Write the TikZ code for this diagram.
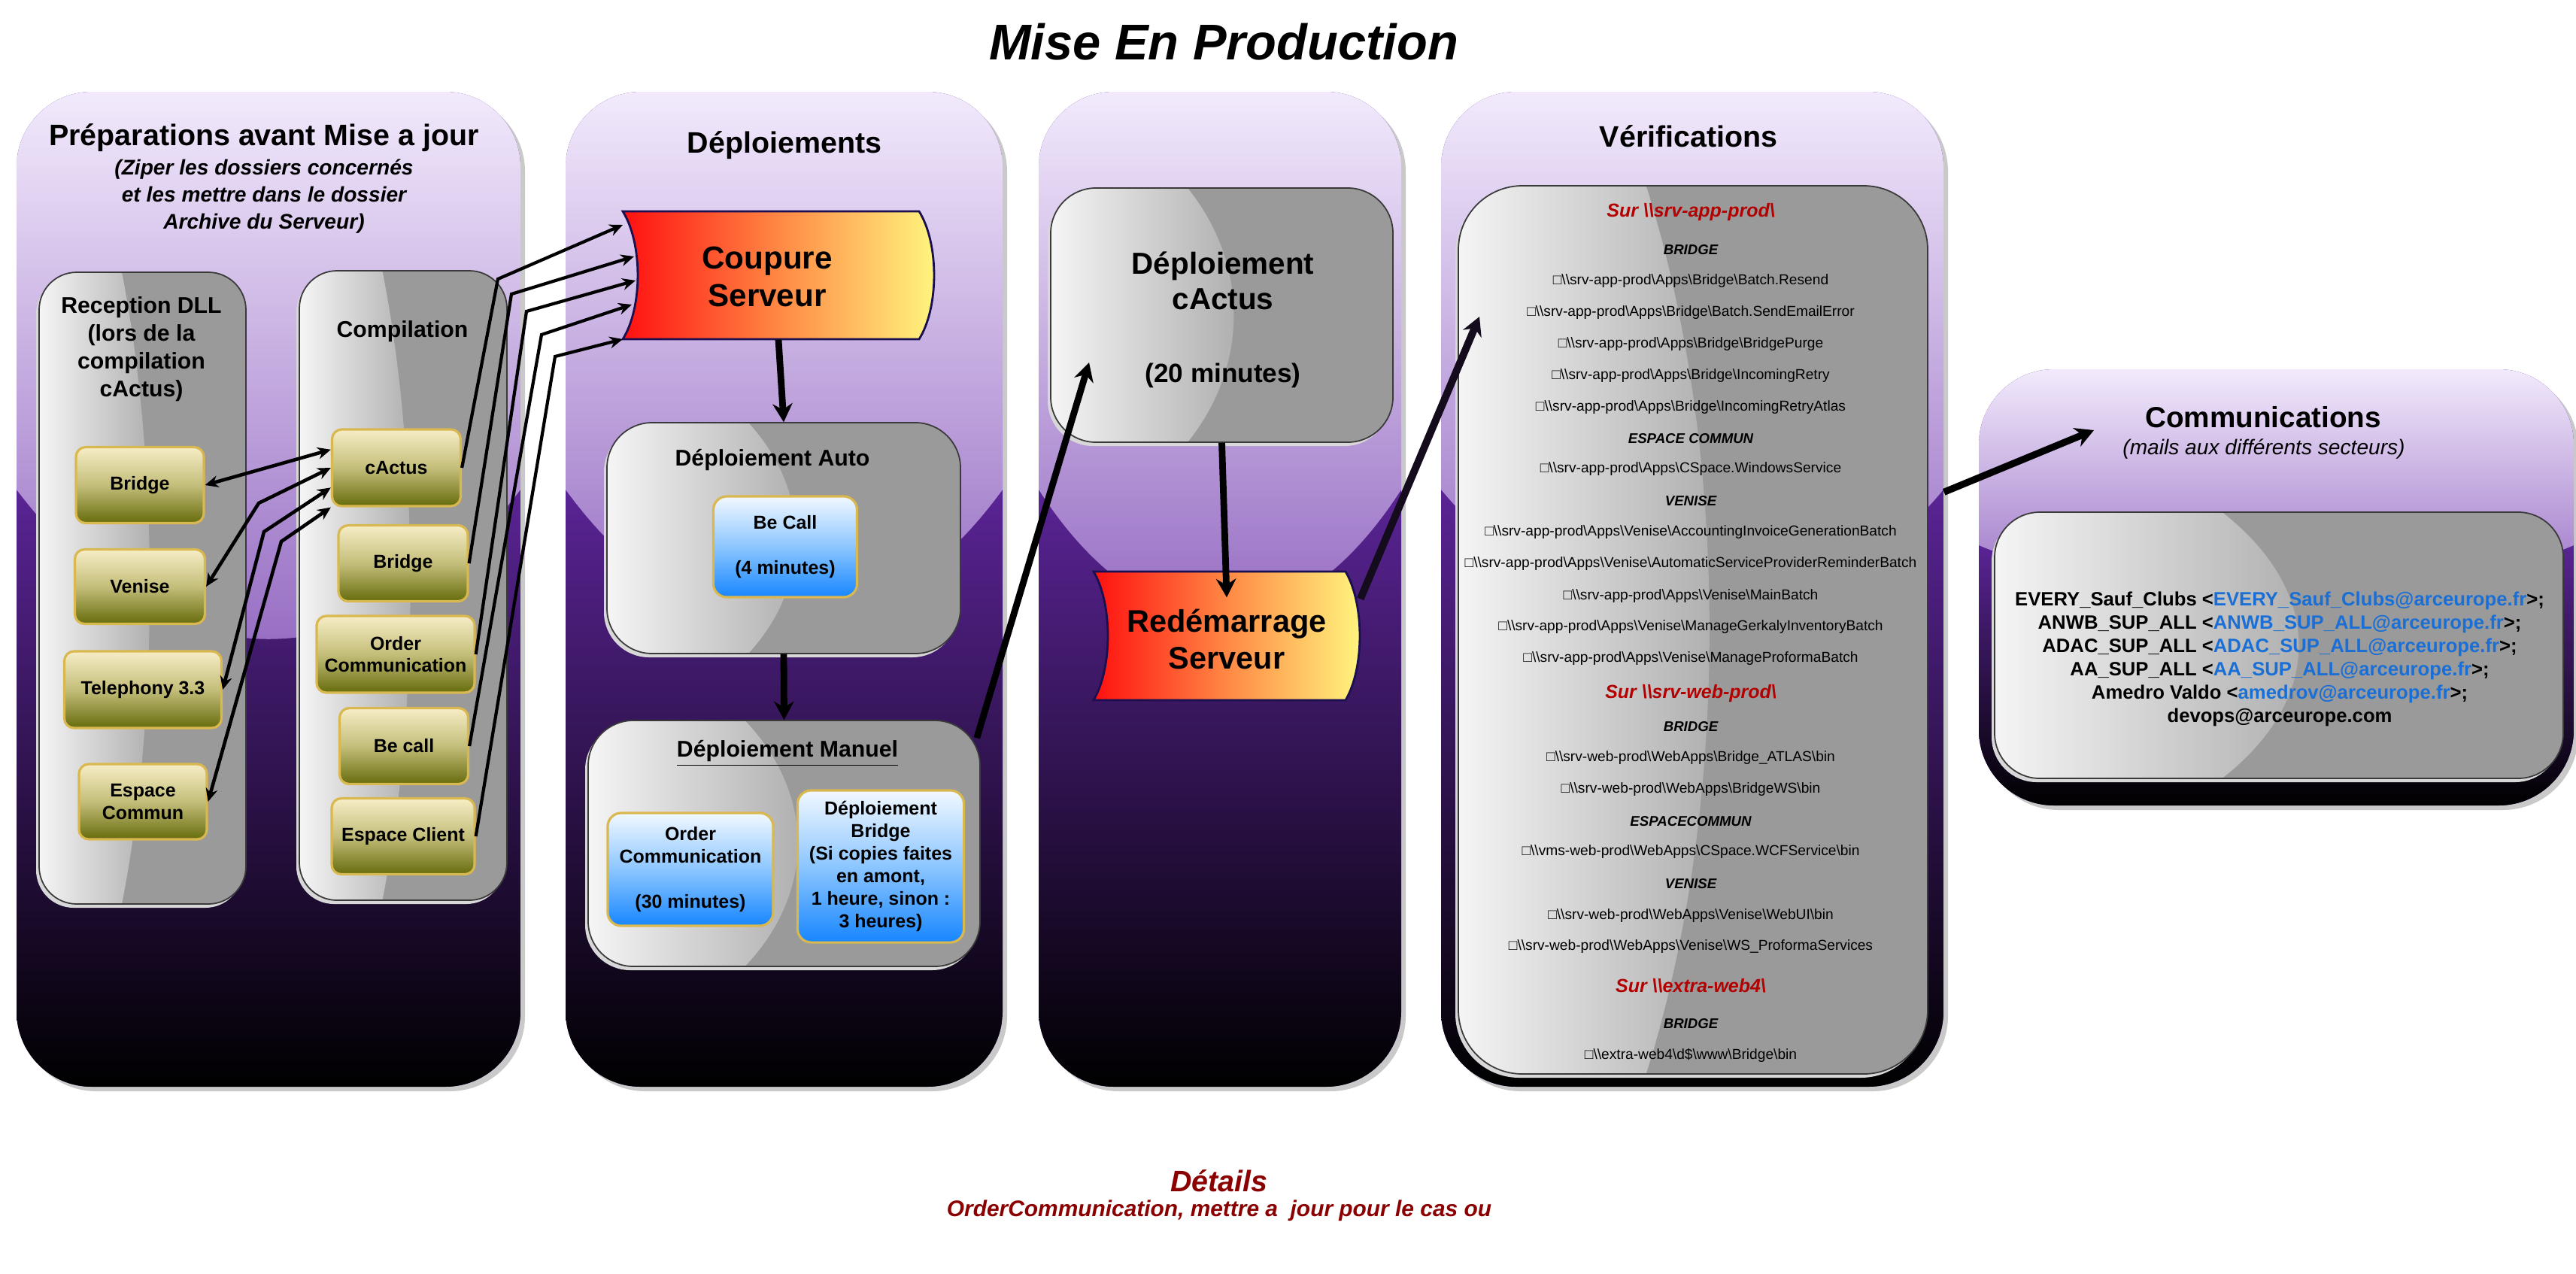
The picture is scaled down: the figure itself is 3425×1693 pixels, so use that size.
\documentclass[tikz,border=0pt]{standalone}
\usepackage{fontspec}
\setmainfont{Liberation Sans}
\usetikzlibrary{arrows.meta,calc,fit,positioning}

\definecolor{ptop}{HTML}{F2EAFC}
\definecolor{pmid}{HTML}{9064BF}
\definecolor{pdeep}{HTML}{5A2495}
\definecolor{panelshadow}{HTML}{C9C9C9}
\definecolor{glassgray}{HTML}{9A9A9A}
\definecolor{glasslight}{HTML}{F5F5F5}
\definecolor{glassmid}{HTML}{ABABAB}
\definecolor{glassedge}{HTML}{3A3A3A}
\definecolor{glassshadow}{HTML}{D8D8D8}
\definecolor{goldtop}{HTML}{F7EDC6}
\definecolor{goldmid}{HTML}{C4BE7A}
\definecolor{goldbot}{HTML}{666C0C}
\definecolor{goldedge}{HTML}{D9B850}
\definecolor{bluetop}{HTML}{F2F8FF}
\definecolor{bluemid}{HTML}{8CC6FF}
\definecolor{bluebot}{HTML}{1786FF}
\definecolor{tapered}{HTML}{FF1010}
\definecolor{tapeorange}{HTML}{FF8A45}
\definecolor{tapeyellow}{HTML}{FFF880}
\definecolor{tapeedge}{HTML}{1A1050}
\definecolor{serverred}{HTML}{B30000}
\definecolor{detailred}{HTML}{8B0000}
\definecolor{mailblue}{HTML}{1A6FD6}
\definecolor{arrowdark}{HTML}{140C1C}

\newcommand{\bs}{\textbackslash}
\newcommand{\fs}[2]{\fontsize{#1}{#2}\selectfont}
\newcommand{\mail}[1]{\textcolor{mailblue}{#1}}

% purple column: name, x1, y1, x2, y2, y of the light edge, control y of its arc
\newcommand{\purplepanel}[7]{%
  \fill[panelshadow, rounded corners=1cm] (#2+6,#3+6) rectangle (#4+6,#5+6);
  \begin{scope}
    \clip[rounded corners=1cm] (#2,#3) rectangle (#4,#5);
    \fill[pdeep] (#2,#3) rectangle (#4,#5);
    \shade[top color=pdeep, bottom color=black] (#2,#6) rectangle (#4,#5);
    \shade[top color=ptop, bottom color=pmid] (#2,#3) -- (#2,#6)
      .. controls ({#2+0.3*(#4-#2)},#7) and ({#4-0.3*(#4-#2)},#7) .. (#4,#6)
      -- (#4,#3) -- cycle;
  \end{scope}
  \node[fit={(#2,#3) (#4,#5)}, inner sep=0pt] (#1) {};}

% grey glass box: [radius] name, x1, y1, x2, y2
\newcommand{\glasspane}[6][0.5cm]{%
  \fill[glassshadow, rounded corners=#1] (#3-4,#4+5) rectangle (#5-4,#6+5);
  \begin{scope}
    \clip[rounded corners=#1] (#3,#4) rectangle (#5,#6);
    \fill[glassgray] (#3,#4) rectangle (#5,#6);
    \shade[left color=glasslight, right color=glassmid] (#3,#4) -- ({#3+0.4*(#5-#3)},#4)
      .. controls ({#3+0.58*(#5-#3)},{#4+0.3*(#6-#4)}) and ({#3+0.58*(#5-#3)},{#4+0.7*(#6-#4)}) .. ({#3+0.4*(#5-#3)},#6)
      -- (#3,#6) -- cycle;
  \end{scope}
  \draw[glassedge, line width=0.5pt, rounded corners=#1] (#3,#4) rectangle (#5,#6);
  \node[fit={(#3,#4) (#5,#6)}, inner sep=0pt] (#2) {};}

% red-yellow banner: name, x1, y1, x2, y2, curve depth
\newcommand{\tapeshape}[6]{%
  \shadedraw[left color=tapered, right color=tapeyellow, middle color=tapeorange, draw=tapeedge, line width=0.8pt]
    (#2,#3) .. controls ({#2+1.33*#6},{#3+0.25*(#5-#3)}) and ({#2+1.33*#6},{#5-0.25*(#5-#3)}) .. (#2,#5)
    -- (#4,#5) .. controls ({#4+1.33*#6},{#5-0.25*(#5-#3)}) and ({#4+1.33*#6},{#3+0.25*(#5-#3)}) .. (#4,#3) -- cycle;
  \node[fit={(#2,#3) ({#4+#6},#5)}, inner sep=0pt] (#1) {};}

\begin{document}
\begin{tikzpicture}[x=0.01cm, y=-0.01cm,
    goldbox/.style={draw=goldedge, line width=0.9pt, rounded corners=0.13cm, top color=goldtop, bottom color=goldbot, middle color=goldmid, inner sep=0pt, align=center, font=\bfseries\fs{7.1}{8.5}},
    bluebox/.style={draw=goldedge, line width=0.9pt, rounded corners=0.18cm, top color=bluetop, bottom color=bluebot, middle color=bluemid, inner sep=0pt, align=center, font=\bfseries\fs{7.1}{8.5}},
    paneltitle/.style={font=\bfseries\fs{11.2}{13}},
    glasstitle/.style={font=\bfseries\fs{8.6}{10.5}, align=center},
    tapetext/.style={font=\bfseries\fs{12}{14}, align=center},
    link/.style={line width=1.2pt, -{Stealth[length=5pt,width=4.5pt]}},
    duplex/.style={line width=1.3pt, {Stealth[length=5pt,width=4.5pt]}-{Stealth[length=5pt,width=4.5pt]}},
    flow/.style={line width=2.5pt, -{Stealth[length=7pt,width=7.5pt]}},
    checkitem/.style={font=\fs{5.45}{6.5}},
    checkhead/.style={font=\bfseries\itshape\fs{5.3}{6.5}},
    server/.style={font=\bfseries\itshape\fs{7.1}{8.5}, text=serverred}]

\fill[white] (0,0) rectangle (3425,1693);
\useasboundingbox (0,0) rectangle (3425,1693);

\node[font=\bfseries\itshape\fs{19}{22}] (title) at (1627,56) {Mise En Production};

% columns
\purplepanel{p1}{22}{122}{692}{1445}{651}{916}
\purplepanel{p2}{752}{122}{1333}{1445}{651}{890}
\purplepanel{p3}{1381}{122}{1863}{1445}{651}{876}
\purplepanel{p4}{1916}{122}{2584}{1445}{651}{890}
\purplepanel{p5}{2631}{491}{3422}{1071}{725}{825}

% Preparations
\node[paneltitle] (prepT) at (351,183) {Préparations avant Mise a jour};
\node[font=\bfseries\itshape\fs{8}{10.2}, align=center] (prepS) at (351,261)
  {(Ziper les dossiers concernés\\et les mettre dans le dossier\\Archive du Serveur)};
\glasspane{recep}{52}{362}{327}{1202}
\glasspane{compil}{398}{360}{674}{1197}
\node[glasstitle] (recepT) at (188,464) {Reception DLL\\(lors de la\\compilation\\cActus)};
\node[glasstitle] (compilT) at (535,441) {Compilation};

\node[goldbox, minimum width=1.70cm, minimum height=1.01cm] (bridgeR) at (186,645) {Bridge};
\node[goldbox, minimum width=1.73cm, minimum height=0.99cm] (veniseR) at (186,780) {Venise};
\node[goldbox, minimum width=2.09cm, minimum height=1.02cm] (teleR) at (190,917) {Telephony 3.3};
\node[goldbox, minimum width=1.70cm, minimum height=1.00cm] (espaceR) at (190,1066) {Espace\\Commun};

\node[goldbox, minimum width=1.71cm, minimum height=1.02cm] (cactusC) at (527,622) {cActus};
\node[goldbox, minimum width=1.72cm, minimum height=1.01cm] (bridgeC) at (536,749) {Bridge};
\node[goldbox, minimum width=2.10cm, minimum height=1.02cm] (orderC) at (526,870) {Order\\Communication};
\node[goldbox, minimum width=1.71cm, minimum height=1.01cm] (becallC) at (537,992) {Be call};
\node[goldbox, minimum width=1.90cm, minimum height=1.01cm] (clientC) at (536,1112) {Espace Client};

\coordinate (ca1) at ($(cactusC.north west)!0.27!(cactusC.south west)$);
\coordinate (ca2) at ($(cactusC.north west)!0.50!(cactusC.south west)$);
\coordinate (ca3) at ($(cactusC.north west)!0.75!(cactusC.south west)$);
\coordinate (ca4) at ($(cactusC.north west)!1.00!(cactusC.south west)$);
\draw[duplex] (bridgeR.east) -- (ca1);
\draw[duplex] (veniseR.east) -- (344,669) -- (ca2);
\draw[duplex] (teleR.east) -- (351,707) -- (ca3);
\draw[duplex] (espaceR.east) -- (374,720) -- (ca4);

% Deploiements
\node[paneltitle] (deplT) at (1043,193) {Déploiements};
\tapeshape{coupure}{828}{281}{1222}{451}{20}
\node[tapetext] (coupureT) at (1020,368) {Coupure\\Serveur};
\glasspane[0.6cm]{auto}{807}{562}{1277}{869}
\node[glasstitle] (autoT) at (1027,612) {Déploiement Auto};
\node[bluebox, minimum width=1.91cm, minimum height=1.34cm] (becallA) at (1044,727) {Be Call\\ \\(4 minutes)};
\glasspane[0.6cm]{manuel}{782}{958}{1303}{1285}
\node[glasstitle] (manuelT) at (1047,1002) {\underline{Déploiement Manuel}};
\node[bluebox, minimum width=2.20cm, minimum height=1.50cm] (orderM) at (918,1156) {Order\\Communication\\ \\(30 minutes)};
\node[bluebox, minimum width=2.21cm, minimum height=2.02cm] (bridgeM) at (1171,1152)
  {Déploiement\\Bridge\\(Si copies faites\\en amont,\\1 heure, sinon :\\3 heures)};

\coordinate (cin1) at (828,299);
\coordinate (cin2) at (843,341);
\coordinate (cin3) at (845,373);
\coordinate (cin4) at (840,405);
\coordinate (cin5) at (828,451);
\draw[link] (cactusC.east) -- (662,371) -- (cin1);
\draw[link] (bridgeC.east) -- (680,391) -- (cin2);
\draw[link] (orderC.east) -- (700,414) -- (cin3);
\draw[link] (becallC.east) -- (720,445) -- (cin4);
\draw[link] (clientC.east) -- (738,474) -- (cin5);

\draw[flow] (coupure.south) -- (auto.north);
\draw[flow] (auto.south) -- (manuel.north);

% cActus
\glasspane[0.6cm]{cactusdep}{1397}{250}{1852}{588}
\node[font=\bfseries\fs{11.5}{13.4}, align=center] (cactusdepT) at (1626,373) {Déploiement\\cActus};
\node[font=\bfseries\fs{10}{12}] (cactusdepM) at (1626,499) {(20 minutes)};
\tapeshape{redem}{1454}{760}{1789}{931}{19}
\node[tapetext, font=\bfseries\fs{11.8}{14}] (redemT) at (1631,850) {Redémarrage\\Serveur};
\coordinate (cactusin) at (1448,482);
\draw[flow] ($(manuel.north east)+(-5,24)$) -- (cactusin);
\draw[flow] (cactusdep.south) -- ($(redem.north)+(0,35)$);

% Verifications
\node[paneltitle] (verifT) at (2245,181) {Vérifications};
\glasspane[0.85cm]{verif}{1939}{247}{2563}{1428}
\foreach \y/\txt in {282/srv-app-prod, 922/srv-web-prod, 1311/extra-web4}
  \node[server] (srv\y) at (2248,\y) {Sur \bs\bs\txt\bs};
\foreach \y/\txt in {332/BRIDGE, 583/ESPACE COMMUN, 666/VENISE, 966/BRIDGE, 1092/ESPACECOMMUN, 1175/VENISE, 1361/BRIDGE}
  \node[checkhead] (head\y) at (2248,\y) {\txt};
\foreach \y/\txt in {
    374/{srv-app-prod\bs Apps\bs Bridge\bs Batch.Resend},
    416/{srv-app-prod\bs Apps\bs Bridge\bs Batch.SendEmailError},
    458/{srv-app-prod\bs Apps\bs Bridge\bs BridgePurge},
    500/{srv-app-prod\bs Apps\bs Bridge\bs IncomingRetry},
    542/{srv-app-prod\bs Apps\bs Bridge\bs IncomingRetryAtlas},
    624/{srv-app-prod\bs Apps\bs CSpace.WindowsService},
    708/{srv-app-prod\bs Apps\bs Venise\bs AccountingInvoiceGenerationBatch},
    750/{srv-app-prod\bs Apps\bs Venise\bs AutomaticServiceProviderReminderBatch},
    793/{srv-app-prod\bs Apps\bs Venise\bs MainBatch},
    834/{srv-app-prod\bs Apps\bs Venise\bs ManageGerkalyInventoryBatch},
    876/{srv-app-prod\bs Apps\bs Venise\bs ManageProformaBatch},
    1008/{srv-web-prod\bs WebApps\bs Bridge\_ATLAS\bs bin},
    1050/{srv-web-prod\bs WebApps\bs BridgeWS\bs bin},
    1133/{vms-web-prod\bs WebApps\bs CSpace.WCFService\bs bin},
    1218/{srv-web-prod\bs WebApps\bs Venise\bs WebUI\bs bin},
    1259/{srv-web-prod\bs WebApps\bs Venise\bs WS\_ProformaServices},
    1403/{extra-web4\bs d\$\bs www\bs Bridge\bs bin}}
  \node[checkitem] (chk\y) at (2248,\y) {□\bs\bs\txt};
\coordinate (verifin) at (1967,421);
\draw[flow, arrowdark, line width=2.8pt] ($(redem.north east)+(0,37)$) -- (verifin);

% Communications
\node[font=\bfseries\fs{11}{13}] (commT) at (3009,555) {Communications};
\node[font=\itshape\fs{8}{10}] (commS) at (3010,597) {(mails aux différents secteurs)};
\glasspane[0.6cm]{comm}{2652}{681}{3408}{1035}
\node[font=\bfseries\fs{7.3}{8.8}, align=center] (mails) at (3031,876)
  {EVERY\_Sauf\_Clubs <\mail{EVERY\_Sauf\_Clubs@arceurope.fr}>;\\
   ANWB\_SUP\_ALL <\mail{ANWB\_SUP\_ALL@arceurope.fr}>;\\
   ADAC\_SUP\_ALL <\mail{ADAC\_SUP\_ALL@arceurope.fr}>;\\
   AA\_SUP\_ALL <\mail{AA\_SUP\_ALL@arceurope.fr}>;\\
   Amedro Valdo <\mail{amedrov@arceurope.fr}>;\\
   devops@arceurope.com};
\coordinate (commin) at (2784,572);
\draw[flow, line width=2.6pt] ($(p4.north east)+(0,533)$) -- (commin);

% bottom notes
\node[font=\bfseries\itshape\fs{11.2}{13}, text=detailred] (details) at (1621,1570) {Détails};
\node[font=\bfseries\itshape\fs{8.5}{10}, text=detailred] (detailsT) at (1621,1610) {OrderCommunication, mettre a\ \ jour pour le cas ou};
\end{tikzpicture}
\end{document}
